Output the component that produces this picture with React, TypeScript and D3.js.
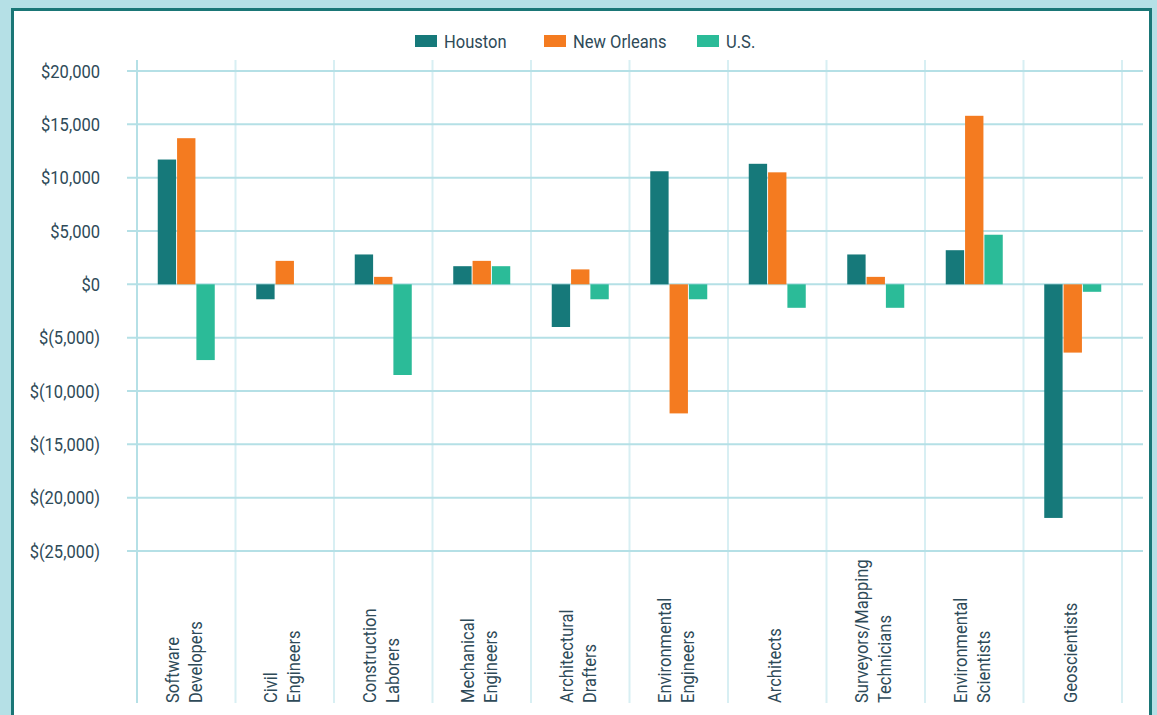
import React, { useEffect, useRef } from 'react';
import * as d3 from 'd3';

const categories = [
  ['Software', 'Developers'],
  ['Civil', 'Engineers'],
  ['Construction', 'Laborers'],
  ['Mechanical', 'Engineers'],
  ['Architectural', 'Drafters'],
  ['Environmental', 'Engineers'],
  ['Architects'],
  ['Surveyors/Mapping', 'Technicians'],
  ['Environmental', 'Scientists'],
  ['Geoscientists'],
];
const seriesNames = ['Houston', 'New Orleans', 'U.S.'];
const seriesColors = ['#16797a', '#f47b20', '#2bbb98'];
const houston = [11700, -1400, 2800, 1700, -4000, 10600, 11300, 2800, 3200, -21900];
const newOrleans = [13700, 2200, 700, 2200, 1400, -12100, 10500, 700, 15800, -6400];
const us = [-7100, 0, -8500, 1700, -1400, -1400, -2200, -2200, 4650, -700];
const yTicks = [20000, 15000, 10000, 5000, 0, -5000, -10000, -15000, -20000, -25000];

const FONT = 'Roboto, "Noto Sans", sans-serif';
const TEXT = '#2e4a58';
const FS = 19;
const SX = 0.87; // squeeze to mimic the condensed face

function fmt(v: number) {
  const s = d3.format(',')(Math.abs(v));
  return v < 0 ? `$(${s})` : `$${s}`;
}

function Chart() {
  const svgRef = useRef<SVGSVGElement>(null);

  useEffect(() => {
    document.body.style.margin = '0';
    const width = 1157;
    const height = 715;
    const svg = d3.select(svgRef.current);
    svg.selectAll('*').remove();

    // background and panel
    svg.append('rect').attr('width', width).attr('height', height).attr('fill', '#b5e0e6');
    svg.append('rect')
      .attr('x', 12.5).attr('y', 9.5)
      .attr('width', 1138).attr('height', 760)
      .attr('fill', '#ffffff')
      .attr('stroke', '#1a7676')
      .attr('stroke-width', 3);

    const x0 = d3.scaleBand<number>()
      .domain(d3.range(categories.length))
      .range([137, 1122]);
    const x1 = d3.scaleBand<number>()
      .domain(d3.range(seriesNames.length))
      .range([0, 57])
      .paddingInner(0.05);
    const y = d3.scaleLinear().domain([-25000, 20000]).range([551, 71]);

    // vertical grid
    const vLines = d3.range(categories.length + 1).map(i => 137 + i * x0.bandwidth());
    svg.append('g').selectAll('line')
      .data(vLines)
      .join('line')
      .attr('x1', d => d).attr('x2', d => d)
      .attr('y1', 60).attr('y2', 703)
      .attr('stroke', (d, i) => (i === 0 ? '#b5e0e6' : '#d8eff3'))
      .attr('stroke-width', 2);

    // horizontal grid
    svg.append('g').selectAll('line')
      .data(yTicks)
      .join('line')
      .attr('x1', 127).attr('x2', 1143)
      .attr('y1', d => y(d)).attr('y2', d => y(d))
      .attr('stroke', '#b5e0e6')
      .attr('stroke-width', 2);

    // y labels
    svg.append('g').selectAll('text')
      .data(yTicks)
      .join('text')
      .attr('transform', d => `translate(100,${y(d)}) scale(${SX},1)`)
      .attr('dy', '0.35em')
      .attr('text-anchor', 'end')
      .attr('font-family', FONT)
      .attr('font-size', FS)
      .attr('fill', TEXT)
      .text(d => fmt(d));

    // bars
    const series = [houston, newOrleans, us];
    series.forEach((vals, s) => {
      svg.append('g').selectAll('rect')
        .data(vals)
        .join('rect')
        .attr('x', (d, i) => (x0(i) as number) + (x0.bandwidth() - 57) / 2 + (x1(s) as number))
        .attr('width', x1.bandwidth())
        .attr('y', d => y(Math.max(0, d)))
        .attr('height', d => Math.abs(y(d) - y(0)))
        .attr('fill', seriesColors[s]);
    });

    // x labels
    const lh = 23;
    categories.forEach((lines, i) => {
      const cx = (x0(i) as number) + x0.bandwidth() / 2;
      const n = lines.length;
      lines.forEach((line, j) => {
        const lx = cx + (j - (n - 1) / 2) * lh + 4;
        svg.append('text')
          .attr('transform', `translate(${lx},703) rotate(-90) scale(${SX},1)`)
          .attr('text-anchor', 'start')
          .attr('font-family', FONT)
          .attr('font-size', FS)
          .attr('fill', TEXT)
          .text(line);
      });
    });

    // legend
    const legendX = [415, 544, 697];
    seriesNames.forEach((name, i) => {
      svg.append('rect')
        .attr('x', legendX[i]).attr('y', 35)
        .attr('width', 22).attr('height', 12)
        .attr('fill', seriesColors[i]);
      svg.append('text')
        .attr('transform', `translate(${legendX[i] + 29},41) scale(${SX},1)`)
        .attr('dy', '0.35em')
        .attr('font-family', FONT)
        .attr('font-size', FS)
        .attr('fill', TEXT)
        .text(name);
    });
  }, []);

  return <svg ref={svgRef} width={1157} height={715} style={{ display: 'block' }} />;
}

export default function App() {
  return <Chart />;
}
